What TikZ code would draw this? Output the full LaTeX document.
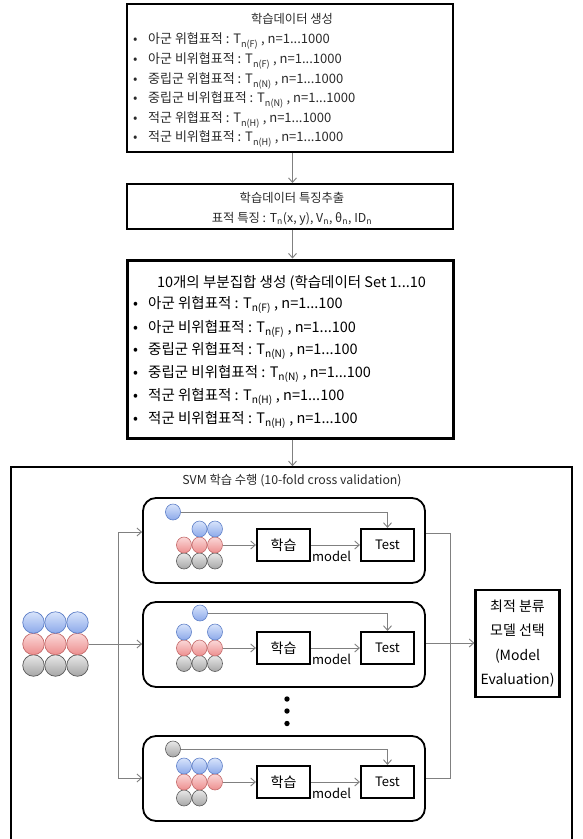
\documentclass[tikz,border=0pt]{standalone}
\usepackage{fontspec}
\setmainfont{Noto Sans CJK KR}
\usetikzlibrary{arrows.meta,shapes.geometric,calc}
\definecolor{linegray}{HTML}{808080}
\definecolor{textgray}{HTML}{2A2A2A}
\definecolor{btop}{HTML}{D8E4FB}
\definecolor{bbot}{HTML}{8CA9EA}
\definecolor{bedge}{HTML}{5F80C8}
\definecolor{rtop}{HTML}{FBD8D8}
\definecolor{rbot}{HTML}{EC8E8E}
\definecolor{redge}{HTML}{C46A6A}
\definecolor{gtop}{HTML}{E8E8E8}
\definecolor{gbot}{HTML}{A6A6A6}
\definecolor{gedge}{HTML}{5A5A5A}
\newcommand{\bulitem}{\makebox[15pt][l]{•}}
\begin{document}
\begin{tikzpicture}[x=1pt,y=-1pt,
  conn/.style={draw=linegray, line width=0.9pt},
  arr/.style={conn, -{Straight Barb[length=4.5pt,width=8pt]}},
  topbox/.style={draw=black, line width=2pt, rectangle, inner sep=0, minimum width=326pt},
  txta/.style={anchor=base west, inner sep=0, text=textgray, font=\fontsize{13}{15}\selectfont},
  txtb/.style={anchor=base west, inner sep=0, text=black, font=\fontsize{14.5}{16}\selectfont},
  ctxt/.style={anchor=base, inner sep=0, text=textgray, font=\fontsize{12.3}{14}\selectfont},
  innerbox/.style={draw=black, line width=1.8pt, rounded corners=13pt, minimum width=282pt, minimum height=85pt, inner sep=0},
  smallbox/.style={draw=black, line width=2.2pt, minimum width=53pt, minimum height=32pt, inner sep=0},
  cb/.style={ellipse, inner sep=0, minimum width=15pt, minimum height=16pt, line width=0.6pt, draw=bedge, top color=btop, bottom color=bbot},
  cr/.style={ellipse, inner sep=0, minimum width=15pt, minimum height=16pt, line width=0.6pt, draw=redge, top color=rtop, bottom color=rbot},
  cg/.style={ellipse, inner sep=0, minimum width=15pt, minimum height=16pt, line width=0.6pt, draw=gedge, top color=gtop, bottom color=gbot},
  big/.style={minimum width=21.5pt, minimum height=21.5pt, line width=0.7pt},
  dotn/.style={circle, fill=black, inner sep=0, minimum size=5.4pt}
]
\useasboundingbox (0,0) rectangle (582,839);
\fill[white] (0,0) rectangle (582,839);
\coordinate (cx) at (292.5,0);

% ---------- top boxes ----------
\node[topbox, minimum height=148pt] (box1) at (290,78) {};
\node[ctxt] (t1) at (292,23.5) {학습데이터 생성};
\node[txta] (l11) at (133,43.8) {\bulitem 아군 위협표적 : T\textsubscript{n(F)} , n=1...1000};
\node[txta] (l12) at (133,63.8) {\bulitem 아군 비위협표적 : T\textsubscript{n(F)} , n=1...1000};
\node[txta] (l13) at (133,83.8) {\bulitem 중립군 위협표적 : T\textsubscript{n(N)} , n=1...1000};
\node[txta] (l14) at (133,102.8) {\bulitem 중립군 비위협표적 : T\textsubscript{n(N)} , n=1...1000};
\node[txta] (l15) at (133,122.8) {\bulitem 적군 위협표적 : T\textsubscript{n(H)} , n=1...1000};
\node[txta] (l16) at (133,141.8) {\bulitem 적군 비위협표적 : T\textsubscript{n(H)} , n=1...1000};

\node[topbox, minimum height=45pt] (box2) at (290,206.5) {};
\node[ctxt] (t2) at (292,202.5) {학습데이터 특징추출};
\node[ctxt] (t2b) at (292,222.5) {표적 특징 : T\textsubscript{n}(x, y), V\textsubscript{n}, θ\textsubscript{n}, ID\textsubscript{n}};

\node[topbox, line width=3pt, minimum height=178pt] (box3) at (290,349) {};
\node[anchor=base, inner sep=0, font=\fontsize{14.5}{16}\selectfont] (t3) at (291.5,287.4) {10개의 부분집합 생성 (학습데이터 Set 1...10};
\node[txtb] (l31) at (133,308.4) {\bulitem 아군 위협표적 : T\textsubscript{n(F)} , n=1...100};
\node[txtb] (l32) at (133,332.4) {\bulitem 아군 비위협표적 : T\textsubscript{n(F)} , n=1...100};
\node[txtb] (l33) at (133,354.4) {\bulitem 중립군 위협표적 : T\textsubscript{n(N)} , n=1...100};
\node[txtb] (l34) at (133,377.4) {\bulitem 중립군 비위협표적 : T\textsubscript{n(N)} , n=1...100};
\node[txtb] (l35) at (133,400.4) {\bulitem 적군 위협표적 : T\textsubscript{n(H)} , n=1...100};
\node[txtb] (l36) at (133,423.4) {\bulitem 적군 비위협표적 : T\textsubscript{n(H)} , n=1...100};

% ---------- SVM outer box ----------
\node[draw=black, line width=1.6pt, minimum width=561pt, minimum height=400pt, inner sep=0] (svm) at (291.5,667) {};
\node[ctxt] (svmt) at (292,484.5) {SVM 학습 수행 (10-fold cross validation)};

\draw[arr] (box1.south -| cx) -- (box2.north -| cx);
\draw[arr] (box2.south -| cx) -- (box3.north -| cx);
\draw[arr] (box3.south -| cx) -- (svm.north -| cx);

% ---------- inner boxes ----------
\node[innerbox] (in1) at (284,540.5) {};
\node[innerbox] (in2) at (284,644.5) {};
\node[innerbox] (in3) at (284,778.5) {};

% box 1 circles
\node[cb] (tc1) at (173,512) {};
\node[cg] (g11) at (184,561) {}; \node[cg] (g12) at (199.5,561) {}; \node[cg] (g13) at (215,561) {};
\node[cr] (r11) at (184,545) {}; \node[cr] (r12) at (199.5,545) {}; \node[cr] (r13) at (215,545) {};
\node[cb] (b12) at (199.5,529) {}; \node[cb] (b13) at (215,529) {};
% box 2 circles
\node[cb] (tc2) at (200,613) {};
\node[cg] (g21) at (184,663.5) {}; \node[cg] (g22) at (199.5,663.5) {}; \node[cg] (g23) at (215,663.5) {};
\node[cr] (r21) at (184,648) {}; \node[cr] (r22) at (199.5,648) {}; \node[cr] (r23) at (215,648) {};
\node[cb] (b21) at (184,632) {}; \node[cb] (b23) at (215,632) {};
% box 3 circles
\node[cg] (tc3) at (173,749) {};
\node[cg] (g31) at (184,798) {}; \node[cg] (g32) at (199.5,798) {};
\node[cr] (r31) at (184,782) {}; \node[cr] (r32) at (199.5,782) {}; \node[cr] (r33) at (215,782) {};
\node[cb] (b31) at (184,766) {}; \node[cb] (b32) at (199.5,766) {}; \node[cb] (b33) at (215,766) {};

% learn / test boxes
\foreach \k/\yy in {1/545,2/648,3/782}{
  \node[smallbox, font=\fontsize{14}{16}\selectfont] (hak\k) at (283.5,\yy) {학습};
  \node[smallbox, font=\fontsize{13}{15}\selectfont] (test\k) at (387.5,\yy) {Test};
  \node[anchor=base west, inner sep=0, font=\fontsize{13}{15}\selectfont] (model\k) at (312,\yy+16) {model};
  \draw[arr] (r\k3.east) -- (r\k3.east -| hak\k.west);
  \draw[arr] (hak\k.east) -- (test\k.west);
  \draw[arr] (tc\k.east) -| (test\k.north);
}

% dots
\node[dotn] (d1) at (287,699) {};
\node[dotn] (d2) at (287,711) {};
\node[dotn] (d3) at (287,723.5) {};

% ---------- left big grid ----------
\node[cg,big] (Lg1) at (33.5,665.5) {}; \node[cg,big] (Lg2) at (55.5,665.5) {}; \node[cg,big] (Lg3) at (77.5,665.5) {};
\node[cr,big] (Lr1) at (33.5,644) {}; \node[cr,big] (Lr2) at (55.5,644) {}; \node[cr,big] (Lr3) at (77.5,644) {};
\node[cb,big] (Lb1) at (33.5,622.5) {}; \node[cb,big] (Lb2) at (55.5,622.5) {}; \node[cb,big] (Lb3) at (77.5,622.5) {};

\coordinate (L1) at (118,532);
\coordinate (L3) at (118,778);
\draw[conn] (L1) -- (L3);
\draw[arr] (L1) -- (L1 -| in1.west);
\draw[arr] (L3) -- (L3 -| in3.west);
\draw[arr] (Lr3.east) -- (Lr3.east -| in2.west);

% ---------- final box ----------
\node[draw=black, line width=2.2pt, minimum width=84pt, minimum height=107pt, inner sep=0, align=center,
      font=\fontsize{14}{24.5}\selectfont] (fin) at (517.5,643.5) {최적 분류\\모델 선택\\(Model\\Evaluation)};

\coordinate (R1) at (450,533);
\coordinate (R2) at (450,643);
\coordinate (R3) at (450,778);
\draw[conn] (R1 -| in1.east) -- (R1) -- (R3) -- (R3 -| in3.east);
\draw[arr] (R2 -| in2.east) -- (R2 -| fin.west);
\end{tikzpicture}
\end{document}
